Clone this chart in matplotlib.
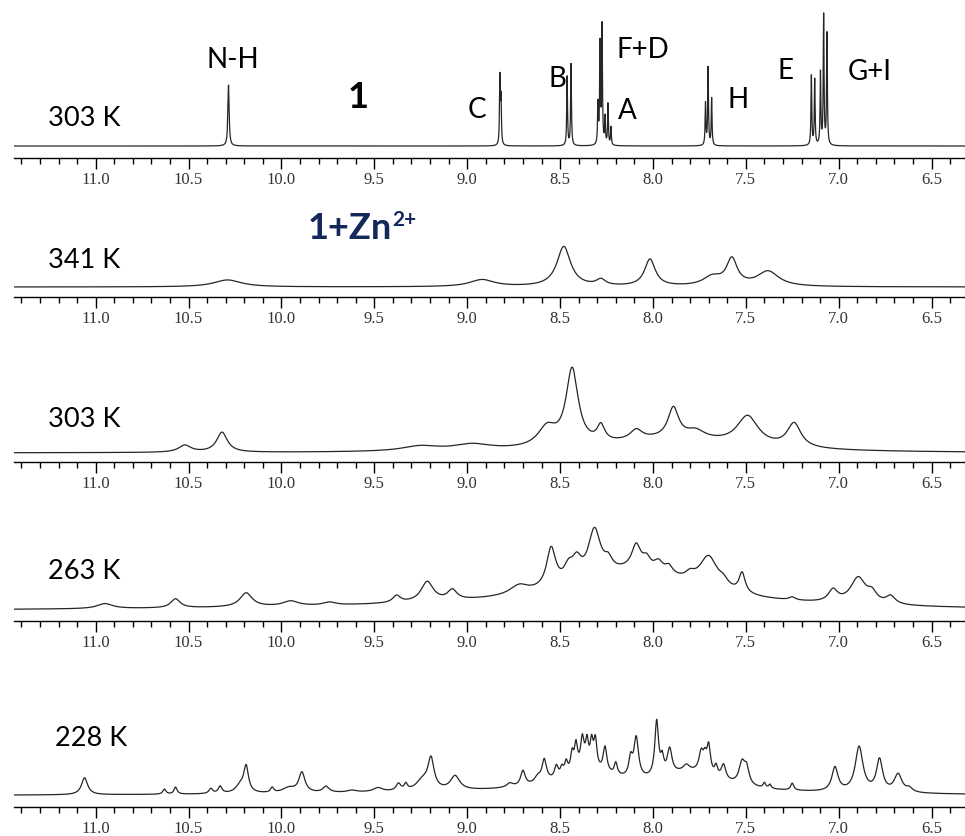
"""Stacked 1H NMR spectra of 1 and 1+Zn2+ at several temperatures."""

import matplotlib

matplotlib.use("Agg")

import matplotlib.pyplot as plt
import numpy as np

# peak lists: (shift ppm, height above baseline, half width ppm)
peaks_free_303 = [
    (10.285, 61, 0.004),
    (8.824, 67, 0.0025), (8.818, 45, 0.0025),
    (8.462, 69, 0.0025), (8.441, 82, 0.0025),
    (8.296, 40, 0.0025), (8.285, 100, 0.0025), (8.274, 118, 0.0025),
    (8.258, 27, 0.0025), (8.242, 41, 0.0025), (8.226, 18, 0.0025),
    (7.717, 42, 0.0025), (7.703, 78, 0.0025), (7.684, 47, 0.0025),
    (7.147, 70, 0.0025), (7.129, 66, 0.0025),
    (7.098, 72, 0.0025), (7.081, 130, 0.0025), (7.063, 112, 0.0025),
]

peaks_zn_341 = [
    (10.29, 7, 0.09),
    (8.92, 7, 0.08),
    (8.48, 40, 0.045),
    (8.28, 6, 0.03),
    (8.016, 27, 0.035),
    (7.68, 9, 0.06),
    (7.575, 26, 0.035),
    (7.38, 15, 0.07),
]

peaks_zn_303 = [
    (7.9, 13, 0.45),
    (10.52, 7, 0.04),
    (10.32, 20, 0.035),
    (9.25, 5, 0.12),
    (8.97, 6, 0.12),
    (8.57, 19, 0.06),
    (8.435, 76, 0.04),
    (8.28, 16, 0.025),
    (8.09, 10, 0.04),
    (7.89, 30, 0.035),
    (7.77, 8, 0.06),
    (7.49, 29, 0.07),
    (7.24, 24, 0.045),
]

peaks_zn_263 = [
    (8.1, 33, 0.4), (8.5, 6, 1.5),
    (10.95, 5, 0.05), (10.57, 9, 0.03), (10.19, 14, 0.04), (9.95, 5, 0.05),
    (9.74, 3, 0.04), (9.38, 7, 0.025), (9.215, 20, 0.04), (9.08, 10, 0.03),
    (8.72, 9, 0.06), (8.548, 39, 0.03), (8.454, 14, 0.03), (8.41, 18, 0.03),
    (8.315, 47, 0.04), (8.24, 10, 0.025), (8.09, 24, 0.03), (8.034, 10, 0.025),
    (7.97, 10, 0.03), (7.914, 8, 0.025), (7.80, 6, 0.03), (7.70, 32, 0.06),
    (7.62, 6, 0.03), (7.52, 20, 0.02), (7.25, 3, 0.02), (7.03, 12, 0.03),
    (6.895, 26, 0.05), (6.82, 9, 0.03), (6.72, 8, 0.03),
]

peaks_zn_228 = [
    (8.35, 18, 0.2), (7.8, 18, 0.2), (8.5, 4, 1.5),
    (11.06, 17, 0.02), (10.63, 5, 0.01), (10.57, 7, 0.01), (10.38, 5, 0.012),
    (10.33, 7, 0.012), (10.22, 8, 0.03), (10.19, 25, 0.015), (10.05, 5, 0.01),
    (9.96, 5, 0.04), (9.89, 20, 0.02), (9.76, 6, 0.02), (9.62, 2, 0.03),
    (9.48, 4, 0.03), (9.37, 7, 0.015), (9.33, 6, 0.01), (9.24, 10, 0.04),
    (9.195, 30, 0.02), (9.065, 14, 0.03),
    (8.77, 4, 0.02), (8.70, 15, 0.015), (8.62, 6, 0.02), (8.585, 22, 0.015),
    (8.52, 12, 0.012), (8.49, 8, 0.01), (8.467, 12, 0.01), (8.435, 18, 0.01),
    (8.414, 25, 0.01), (8.38, 30, 0.012), (8.355, 25, 0.01), (8.33, 25, 0.01),
    (8.31, 28, 0.01), (8.258, 25, 0.012), (8.20, 12, 0.01), (8.12, 18, 0.012),
    (8.09, 40, 0.015), (7.98, 55, 0.012), (7.95, 15, 0.01), (7.91, 25, 0.015),
    (7.82, 6, 0.02), (7.74, 20, 0.015), (7.72, 12, 0.01), (7.70, 28, 0.012),
    (7.66, 10, 0.01), (7.62, 15, 0.015), (7.52, 22, 0.02), (7.495, 15, 0.015),
    (7.40, 5, 0.008), (7.37, 4, 0.008), (7.25, 7, 0.01),
    (7.02, 24, 0.02), (6.89, 45, 0.025), (6.78, 32, 0.02), (6.68, 18, 0.025),
    (6.62, 4, 0.02),
]

temperatures = ["303 K", "341 K", "303 K", "263 K", "228 K"]
spectra = [peaks_free_303, peaks_zn_341, peaks_zn_303, peaks_zn_263, peaks_zn_228]

# assignment labels of the free ligand: (text, x px, y px)
assignments = [
    ("N-H", 233, 60), ("C", 477, 110), ("B", 557, 79), ("F+D", 643, 50),
    ("A", 627, 111), ("H", 738, 100), ("E", 786, 71), ("G+I", 870, 72),
]

# layout in figure pixels (y from top): axis line, baseline, top of panel
W, H = 965, 837
axis_y = [159, 298, 463, 622, 808]
base_y = [147, 288, 454, 612, 797]
top_y = [5, 200, 330, 500, 687]
label_y = [119, 261, 420, 572, 739]
label_x = [48, 48, 48, 48, 55]
X_LEFT, X_RIGHT = 11.44, 6.32

ppm = np.arange(X_RIGHT, X_LEFT, 0.0004)


def spectrum(peaks):
    y = np.zeros_like(ppm)
    for x0, a, w in peaks:
        y += a * w**2 / ((ppm - x0) ** 2 + w**2)
    return y


fig = plt.figure(figsize=(W / 100, H / 100), dpi=100)

for i, peaks in enumerate(spectra):
    off = axis_y[i] - base_y[i]
    height = axis_y[i] - top_y[i]
    ax = fig.add_axes([14 / W, 1 - axis_y[i] / H, 1 - 14 / W, height / H])
    ax.patch.set_alpha(0)
    ax.plot(ppm, spectrum(peaks), color="#262626", lw=0.9)
    ax.set_xlim(X_LEFT, X_RIGHT)
    ax.set_ylim(-off, height - off)
    for side in ("top", "left", "right"):
        ax.spines[side].set_visible(False)
    ax.spines["bottom"].set_linewidth(1.0)
    ax.set_yticks([])
    ax.set_xticks(np.arange(6.5, 11.01, 0.5))
    ax.set_xticks(np.arange(6.4, 11.41, 0.1), minor=True)
    ax.set_xticklabels([f"{v:.1f}" for v in np.arange(6.5, 11.01, 0.5)],
                       family="Liberation Serif", fontsize=12, color="#333333")
    ax.tick_params(axis="x", which="major", length=8, width=1, pad=1.5)
    ax.tick_params(axis="x", which="minor", length=4, width=1)
    fig.text(label_x[i] / W, 1 - label_y[i] / H, temperatures[i],
             family="Lato", fontsize=19.5, va="center", ha="left")

for txt, x, y in assignments:
    fig.text(x / W, 1 - y / H, txt, family="Lato", fontsize=20,
             va="center", ha="center")

fig.text(358 / W, 1 - 97 / H, "1", family="Lato", fontsize=26,
         weight="bold", va="center", ha="center")
fig.text(308 / W, 1 - 229 / H, "1+Zn", family="Lato", fontsize=26,
         weight="bold", va="center", ha="left", color="#14285a")
fig.text(392 / W, 1 - 220 / H, "2+", family="Lato", fontsize=15,
         weight="bold", va="center", ha="left", color="#14285a")

fig.savefig("out.png", dpi=100)
